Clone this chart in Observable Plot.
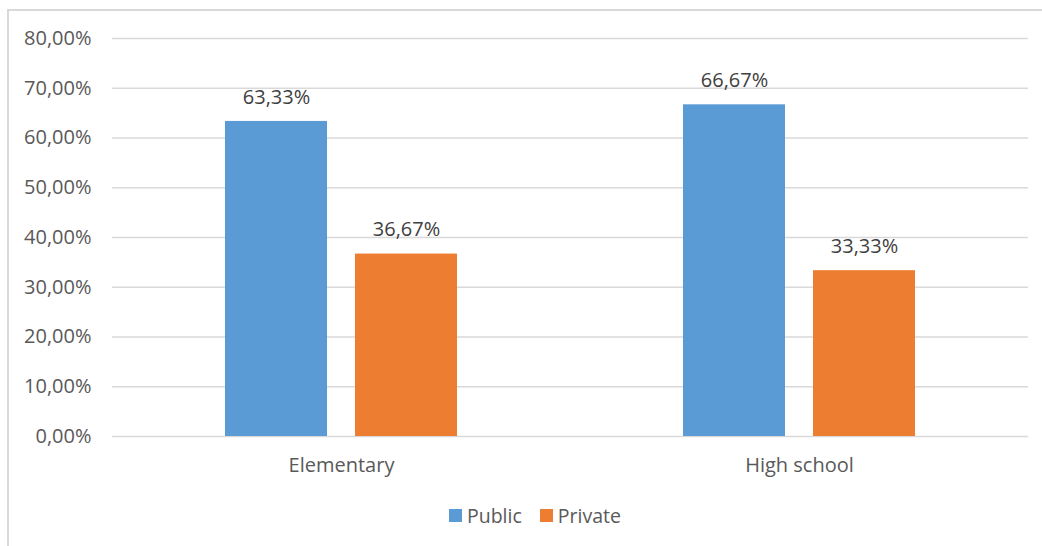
<!DOCTYPE html>
<html>
<head>
<meta charset="utf-8">
<script src="https://cdn.jsdelivr.net/npm/d3@7"></script>
<script src="https://cdn.jsdelivr.net/npm/@observablehq/plot@0.6"></script>
<style>
  html, body { margin: 0; padding: 0; background: #fff; }
  body { width: 1042px; height: 546px; overflow: hidden; font-family: "Open Sans", sans-serif; }
  #wrap { margin-left: 7px; margin-top: 9px; border-left: 2px solid #d9d9d9; border-top: 2px solid #d9d9d9; height: 600px; }
  #legend { display: flex; align-items: center; margin-left: 440px; margin-top: 11px; font-size: 19.5px; color: #595959; }
  .item { display: flex; align-items: center; margin-right: 18px; }
  .sw { width: 13px; height: 13px; margin-right: 5px; }
</style>
</head>
<body>
<div id="wrap"><div id="chart"></div><div id="legend"></div></div>
<script>
const groups = ["Elementary", "High school"];
const series = ["Public", "Private"];
const publicValues = [63.33, 66.67];
const privateValues = [36.67, 33.33];
const yTicks = [0, 10, 20, 30, 40, 50, 60, 70, 80];
const colors = ["#5B9BD5", "#ED7D31"];

const data = [];
groups.forEach((g, i) => {
  data.push({group: g, type: "Public", value: publicValues[i]});
  data.push({group: g, type: "Private", value: privateValues[i]});
});
const fmt = v => d3.format(".2f")(v).replace(".", ",") + "%";

const chart = Plot.plot({
  width: 1033,
  height: 480,
  marginLeft: 103,
  marginRight: 14,
  marginTop: 27,
  marginBottom: 55,
  style: {fontFamily: "'Open Sans', sans-serif", fontSize: "20px", color: "#595959", background: "#fff"},
  fx: {domain: groups, paddingInner: 0, paddingOuter: 0, label: null},
  x: {domain: series, paddingInner: 0.215, paddingOuter: 0.869, axis: null},
  y: {domain: [0, 80], label: null},
  color: {domain: series, range: colors},
  marks: [
    Plot.gridY(yTicks, {stroke: "#d9d9d9", strokeOpacity: 1, strokeWidth: 1.5}),
    Plot.axisY(yTicks, {tickSize: 0, tickPadding: 21, tickFormat: fmt, label: null, fill: "#595959"}),
    Plot.axisFx({anchor: "bottom", tickSize: 0, tickPadding: 21, label: null, fill: "#595959"}),
    Plot.barY(data, {fx: "group", x: "type", y: "value", fill: "type"}),
    Plot.text(data, {fx: "group", x: "type", y: "value", text: d => fmt(d.value), dy: -24, fill: "#404040"})
  ]
});
document.getElementById("chart").appendChild(chart);

const legend = document.getElementById("legend");
series.forEach((s, i) => {
  const it = document.createElement("div");
  it.className = "item";
  const sw = document.createElement("div");
  sw.className = "sw";
  sw.style.background = colors[i];
  const t = document.createElement("span");
  t.textContent = s;
  it.appendChild(sw); it.appendChild(t);
  legend.appendChild(it);
});
</script>
</body>
</html>
